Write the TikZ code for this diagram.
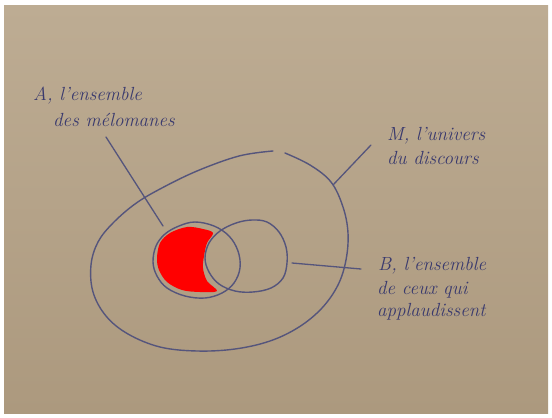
\documentclass[tikz,border=0pt]{standalone}
\usepackage{tikz}
\definecolor{paperTop}{HTML}{BDAC93}
\definecolor{paperBot}{HTML}{AC997E}
\definecolor{ink}{HTML}{55557C}
\definecolor{txtink}{HTML}{3A3A6E}
\tikzset{
  setline/.style={draw=ink, line width=1.4pt, line cap=round, line join=round},
  leader/.style={draw=ink, line width=1.3pt, line cap=round},
  hand/.style={inner sep=0pt, anchor=base west, text=txtink, font=\fontsize{19}{23}\selectfont\itshape}
}
\begin{document}
\begin{tikzpicture}[x=1pt,y=-1pt]
\fill[white] (0,0) rectangle (552,418);
\useasboundingbox (0,0) rectangle (552,418);
\shade[top color=paperTop, bottom color=paperBot] (4,5) rectangle (548,413);

% red region (A only)
\fill[red] plot[smooth cycle, tension=0.55] coordinates {
 (157,258) (160,243) (170,233) (187,227) (203,229) (213,233)
 (207,243) (204,256) (203,268) (207,281) (217,291)
 (200,292) (182,290) (167,282) (159,270)};

% M, universe (open at top)
\draw[setline] plot[smooth, tension=0.6] coordinates {
 (285,153) (310,165) (331,182) (343,207) (348,233) (346,260) (338,285)
 (322,308) (299,327) (270,341) (235,349) (197,351) (160,347) (128,334)
 (106,316) (93,292) (91,265) (98,242) (113,223) (135,204) (160,189)
 (197,171) (239,156) (273,151)};

% A
\draw[setline] plot[smooth cycle, tension=0.6] coordinates {
 (153,262) (156,246) (165,234) (179,226) (195,222) (214,226) (229,236)
 (238,251) (240,268) (234,283) (222,293) (205,298) (185,296) (167,288) (157,276)};

% B
\draw[setline] plot[smooth cycle, tension=0.6] coordinates {
 (205,258) (209,243) (220,231) (236,223) (252,220) (267,222) (279,232)
 (286,247) (287,263) (283,278) (271,288) (253,292) (235,291) (219,284) (209,272)};

% labels
\node[hand] (labelA1) at (33,100) {A, l'ensemble};
\node[hand] (labelA2) at (53,126) {des mélomanes};
\node[hand] (labelM1) at (387,140) {M, l'univers};
\node[hand] (labelM2) at (387,164) {du discours};
\node[hand] (labelB1) at (378,270) {B, l'ensemble};
\node[hand] (labelB2) at (377,294) {de ceux qui};
\node[hand] (labelB3) at (377,316) {applaudissent};

% leader ends
\coordinate (aTop) at (106,137);
\coordinate (aEnd) at (163,226);
\coordinate (mTop) at (371,145);
\coordinate (mEnd) at (333,185);
\coordinate (bStart) at (292,263);
\coordinate (bEnd) at (361,269);

\draw[leader] (aTop) -- (aEnd);
\draw[leader] (mTop) -- (mEnd);
\draw[leader] (bStart) -- (bEnd);
\end{tikzpicture}
\end{document}
